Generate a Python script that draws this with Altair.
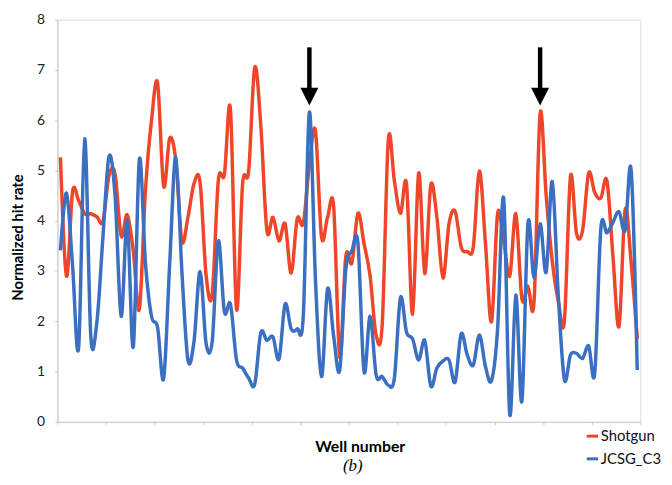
import altair as alt
import pandas as pd

wells = list(range(1, 97))

shotgun = [5.26, 2.90, 4.58, 4.40, 4.14, 4.14, 4.08, 3.99, 4.90, 4.93,
           3.70, 4.12, 3.40, 2.24, 4.60, 6.00, 6.74, 4.69, 5.64, 5.20,
           3.60, 4.07, 4.74, 4.76, 2.90, 2.54, 4.80, 4.92, 6.22, 2.24,
           4.73, 4.99, 7.05, 5.90, 3.81, 4.07, 3.60, 3.94, 2.96, 4.04,
           3.95, 5.12, 5.79, 3.68, 4.07, 4.28, 1.29, 3.29, 3.16, 4.15,
           3.55, 2.90, 1.72, 1.95, 5.61, 4.79, 4.15, 4.73, 2.14, 4.95,
           2.95, 4.71, 4.07, 2.86, 3.94, 4.19, 3.48, 3.39, 3.48, 4.99,
           3.55, 1.99, 4.14, 3.60, 2.90, 4.14, 2.45, 2.70, 2.39, 6.13,
           4.50, 3.20, 2.40, 2.01, 4.88, 3.75, 3.81, 4.95, 4.56, 4.45,
           4.80, 3.29, 1.90, 4.22, 3.16, 1.65]

jcsg_c3 = [3.41, 4.55, 3.10, 1.48, 5.63, 1.71, 1.98, 3.68, 5.28, 4.50,
           2.10, 4.00, 1.49, 5.22, 3.16, 2.10, 1.88, 0.86, 3.16, 5.27,
           3.00, 1.23, 1.60, 2.99, 1.55, 1.60, 3.60, 2.19, 2.34, 1.23,
           1.07, 0.87, 0.75, 1.77, 1.62, 1.69, 1.25, 2.34, 1.85, 1.85,
           2.11, 6.16, 2.83, 0.90, 2.65, 1.70, 1.03, 3.03, 3.40, 3.55,
           1.00, 2.10, 0.93, 0.90, 0.73, 0.87, 2.47, 1.78, 1.65, 1.23,
           1.62, 0.71, 1.07, 1.21, 1.23, 0.79, 1.75, 1.33, 1.13, 1.73,
           1.10, 0.82, 1.85, 4.45, 0.15, 2.52, 0.41, 3.95, 2.86, 3.94,
           2.98, 4.78, 2.50, 0.84, 1.33, 1.36, 1.26, 1.51, 0.97, 3.84,
           3.76, 3.97, 4.18, 3.81, 5.00, 1.03]

series_names = ["Shotgun", "JCSG_C3"]
series_colors = ["#EF4528", "#3A6FC2"]

arrow_wells = [42, 80]
arrow_top = [7.45, 7.45]
arrow_shaft_end = [6.62, 6.62]
arrow_head = [6.47, 6.47]

y_ticks = [0, 1, 2, 3, 4, 5, 6, 7, 8]
x_ticks = [w - 0.5 for w in wells] + [96.5]

df_red = pd.DataFrame({"Well": wells, "rate": shotgun, "series": series_names[0]})
df_blue = pd.DataFrame({"Well": wells, "rate": jcsg_c3, "series": series_names[1]})
df_arrow = pd.DataFrame({"Well": arrow_wells, "top": arrow_top,
                         "end": arrow_shaft_end, "head": arrow_head})

FONT = "Lato"

x_enc = alt.X("Well:Q",
              scale=alt.Scale(domain=[0.5, 96.5], nice=False, zero=False),
              axis=alt.Axis(values=x_ticks, labels=False, grid=False,
                            tickSize=3, tickColor="#c8c8c8", domainColor="#c8c8c8",
                            title="Well number", titleFont=FONT, titleFontSize=16,
                            titleFontWeight="bold", titleColor="#000000",
                            titlePadding=14, titleX=306))
y_enc = alt.Y("rate:Q",
              scale=alt.Scale(domain=[0, 8], nice=False),
              axis=alt.Axis(values=y_ticks, grid=False, tickSize=3,
                            tickColor="#c8c8c8", domainColor="#c8c8c8",
                            labelFont=FONT, labelFontSize=14, labelColor="#222222",
                            labelPadding=10,
                            title="Normalized hit rate", titleFont=FONT,
                            titleFontSize=15, titleFontWeight="bold",
                            titleColor="#000000", titleX=-32, titleY=220))

color_enc = alt.Color("series:N",
                      scale=alt.Scale(domain=series_names, range=series_colors),
                      title=None,
                      legend=alt.Legend(orient="none", legendX=534, legendY=414,
                                        symbolType="stroke", symbolStrokeWidth=3,
                                        symbolSize=130, labelFont=FONT,
                                        labelFontSize=15, labelColor="#111111",
                                        rowPadding=7, labelOffset=1))

red = alt.Chart(df_red).mark_line(interpolate="cardinal", tension=0, strokeWidth=3.5).encode(
    x=x_enc, y=y_enc, color=color_enc)
blue = alt.Chart(df_blue).mark_line(interpolate="cardinal", tension=0, strokeWidth=3.5).encode(
    x=x_enc, y=y_enc, color=color_enc)

shaft = alt.Chart(df_arrow).mark_rule(color="black", strokeWidth=4.5).encode(
    x="Well:Q", y="top:Q", y2="end:Q")
head = alt.Chart(df_arrow).mark_point(shape="M-1,-1L1,-1L0,1Z", filled=True,
                                      color="black", opacity=1, size=330,
                                      strokeWidth=0).encode(
    x="Well:Q", y="head:Q")

chart = alt.layer(red, blue, shaft, head).properties(
    width=590, height=407,
    padding={"left": 50, "top": 9, "right": 24, "bottom": 53},
    autosize=alt.AutoSizeParams(type="none"),
    title=alt.TitleParams("(b)", orient="bottom", font="Liberation Serif",
                          fontStyle="italic", fontSize=17, fontWeight="normal",
                          color="#000000", anchor="middle", offset=-9, dx=4),
).configure_view(stroke=None).configure(background="white")

chart.save("out.html", embed_options={"renderer": "svg", "actions": False})
